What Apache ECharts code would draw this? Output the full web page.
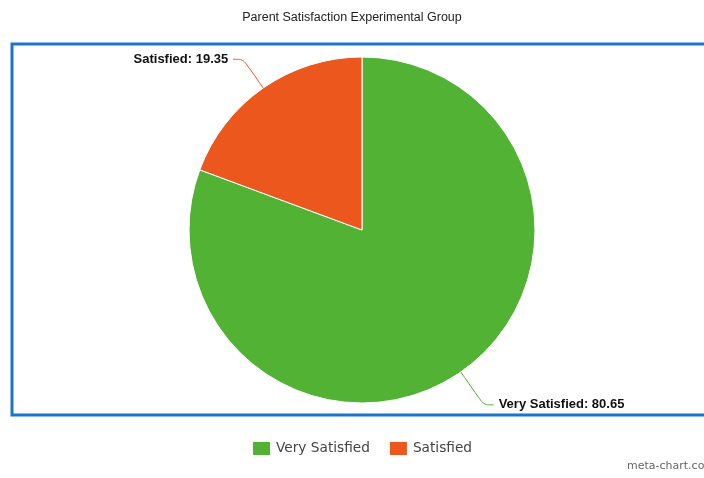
<!DOCTYPE html>
<html><head><meta charset="utf-8">
<script src="https://cdn.jsdelivr.net/npm/echarts@6/dist/echarts.min.js"></script>
<style>html,body{margin:0;padding:0;background:#fff}#c{width:704px;height:478px}</style>
</head><body><div id="c"></div>
<script>
const titleText = "Parent Satisfaction Experimental Group";
const categories = ["Very Satisfied", "Satisfied"];
const values = [80.65, 19.35];
const colors = ["#52b234", "#eb571d"];
const credit = "meta-chart.com";
const lineLengths = [40, 35];

const chart = echarts.init(document.getElementById('c'));
chart.setOption({
  animation: false,
  color: colors,
  title: {
    text: titleText, left: 'center', top: 6,
    textStyle: {fontFamily: 'Liberation Sans, Arial', fontSize: 12.5, fontWeight: 'normal', color: '#222'}
  },
  legend: {
    data: categories, left: 246, top: 435,
    itemWidth: 19, itemHeight: 15, itemGap: 18, icon: 'rect',
    textStyle: {fontFamily: 'DejaVu Sans', fontSize: 13.7, color: '#444'}
  },
  graphic: [
    {type: 'rect', shape: {x: 12, y: 44, width: 700, height: 371},
     style: {fill: 'none', stroke: '#1a74cc', lineWidth: 3}, z: -1},
    {type: 'text', left: 627, top: 461,
     style: {text: credit, fill: '#666', font: '11px DejaVu Sans'}}
  ],
  series: [{
    type: 'pie',
    center: [362, 230], radius: 173,
    startAngle: 90, clockwise: true,
    data: categories.map((n, i) => ({name: n, value: values[i], labelLine: {length: lineLengths[i]}})),
    itemStyle: {borderColor: '#fff', borderWidth: 1},
    label: {
      show: true, formatter: '{b}: {c}',
      fontFamily: 'Liberation Sans, Arial', fontWeight: 'bold', fontSize: 13, color: '#111'
    },
    labelLine: {show: true, length: 35, length2: 10, smooth: 0.3, lineStyle: {width: 1}}
  }]
});
</script></body></html>
